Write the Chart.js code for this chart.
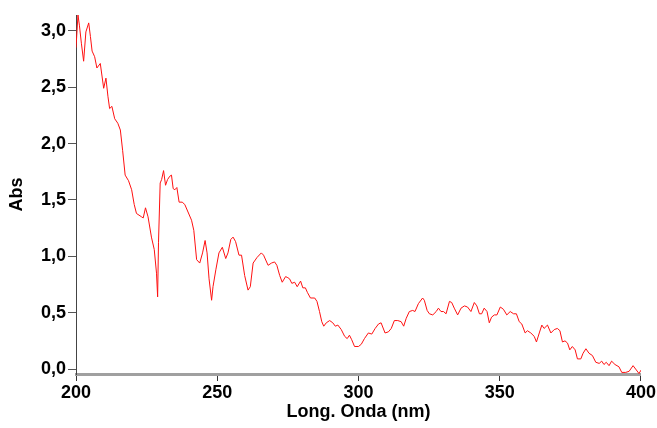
<!DOCTYPE html>
<html>
<head>
<meta charset="utf-8">
<script src="https://cdn.jsdelivr.net/npm/chart.js@4/dist/chart.umd.min.js"></script>
<style>
  html, body { margin: 0; padding: 0; background: #fff; }
  #wrap { width: 657px; height: 428px; position: relative; }
</style>
</head>
<body>
<div id="wrap"><canvas id="chart"></canvas></div>
<script>
/* Espectro UV-Vis: Abs vs longitud de onda */

const WAVELENGTH = [
  200.0, 200.7, 201.2, 201.9, 202.7, 203.5, 204.5, 205.1, 205.7, 206.6,
  207.4, 208.6, 209.8, 210.6, 211.3, 211.9, 212.7, 213.7, 214.8, 215.7,
  216.5, 217.4, 218.6, 219.7, 220.6, 221.4, 223.2, 223.8, 224.6, 225.5,
  226.7, 227.7, 228.5, 228.9, 229.2, 229.8, 230.3, 231.0, 231.7, 232.4,
  233.2, 233.8, 234.4, 235.0, 235.7, 236.5, 237.6, 238.5, 240.9, 241.7,
  242.7, 243.8, 244.8, 245.7, 246.4, 247.1, 248.0, 248.5, 249.5, 250.6,
  251.8, 253.0, 253.8, 254.8, 255.6, 256.5, 257.7, 258.6, 259.7, 260.9,
  261.7, 262.7, 264.1, 265.6, 266.4, 268.0, 269.2, 270.3, 271.1, 272.1,
  273.0, 274.2, 275.0, 275.6, 276.4, 277.4, 278.3, 279.5, 280.3, 281.2,
  281.9, 283.0, 284.5, 285.3, 286.2, 287.0, 287.7, 288.6, 289.8, 290.9,
  291.8, 292.7, 293.9, 295.1, 296.0, 296.8, 297.6, 298.6, 300.0, 301.0,
  302.1, 303.5, 304.7, 305.9, 307.1, 308.0, 309.4, 310.6, 311.6, 312.7,
  313.9, 315.1, 316.0, 316.9, 318.0, 319.2, 320.0, 321.2, 322.7, 323.3,
  324.3, 325.1, 326.3, 327.5, 328.3, 329.2, 330.1, 331.0, 332.2, 333.0,
  333.9, 335.1, 336.3, 337.5, 338.6, 339.8, 341.0, 341.9, 342.8, 343.6,
  344.5, 345.5, 346.3, 347.1, 348.1, 349.0, 350.2, 351.3, 352.5, 353.7,
  354.9, 355.9, 356.9, 357.8, 359.0, 359.8, 361.0, 362.2, 363.0, 364.0,
  364.9, 365.7, 366.9, 368.1, 369.3, 370.4, 371.3, 372.2, 373.1, 374.0,
  374.8, 375.7, 376.7, 377.5, 378.7, 379.5, 380.5, 381.6, 382.8, 384.0,
  385.2, 386.1, 386.9, 387.7, 388.7, 389.6, 390.8, 392.2, 393.2, 394.6,
  395.8, 397.2, 398.1, 399.3, 400.0
];

const ABSORBANCE = [
  2.85, 3.14, 3.05, 2.89, 2.73, 2.99, 3.07, 2.95, 2.82, 2.77,
  2.67, 2.71, 2.49, 2.58, 2.42, 2.31, 2.33, 2.22, 2.18, 2.12,
  1.94, 1.72, 1.67, 1.59, 1.46, 1.38, 1.35, 1.34, 1.43, 1.35,
  1.17, 1.06, 0.85, 0.64, 1.12, 1.65, 1.68, 1.76, 1.63, 1.68,
  1.71, 1.72, 1.60, 1.59, 1.61, 1.48, 1.48, 1.46, 1.32, 1.23,
  0.97, 0.94, 1.03, 1.14, 1.03, 0.80, 0.61, 0.73, 0.88, 1.03,
  1.08, 0.98, 1.03, 1.15, 1.17, 1.13, 1.01, 1.01, 0.83, 0.70,
  0.73, 0.94, 0.99, 1.03, 1.01, 0.92, 0.94, 0.95, 0.92, 0.83,
  0.77, 0.82, 0.81, 0.80, 0.76, 0.77, 0.73, 0.78, 0.72, 0.72,
  0.68, 0.63, 0.63, 0.60, 0.51, 0.42, 0.38, 0.41, 0.43, 0.41,
  0.38, 0.39, 0.35, 0.29, 0.27, 0.30, 0.26, 0.20, 0.20, 0.22,
  0.27, 0.32, 0.31, 0.36, 0.40, 0.41, 0.32, 0.33, 0.36, 0.43,
  0.43, 0.42, 0.38, 0.45, 0.51, 0.52, 0.51, 0.58, 0.63, 0.61,
  0.52, 0.49, 0.48, 0.51, 0.54, 0.51, 0.51, 0.49, 0.60, 0.59,
  0.54, 0.48, 0.54, 0.56, 0.55, 0.51, 0.59, 0.56, 0.49, 0.49,
  0.54, 0.51, 0.41, 0.46, 0.48, 0.48, 0.55, 0.53, 0.48, 0.51,
  0.49, 0.49, 0.42, 0.40, 0.32, 0.34, 0.32, 0.29, 0.24, 0.32,
  0.39, 0.36, 0.39, 0.32, 0.35, 0.36, 0.34, 0.24, 0.25, 0.23,
  0.17, 0.20, 0.17, 0.09, 0.09, 0.14, 0.18, 0.14, 0.12, 0.06,
  0.05, 0.07, 0.04, 0.06, 0.03, 0.07, 0.04, 0.02, -0.03, -0.03,
  -0.02, 0.03, 0.00, -0.04, -0.01
];

const X_TICKS = [200, 250, 300, 350, 400];
const Y_TICKS = [0, 0.5, 1.0, 1.5, 2.0, 2.5, 3.0];

const FONT = { family: "'Liberation Sans', Arial, sans-serif", size: 18, weight: "bold" };
const fmt = v => Number(v).toFixed(1).replace(".", ",");

const points = WAVELENGTH.map((x, i) => ({ x, y: ABSORBANCE[i] }));

new Chart(document.getElementById("chart"), {
  type: "line",
  data: {
    datasets: [{
      label: "Abs",
      data: points,
      borderColor: "#ff1010",
      borderWidth: 1,
      pointRadius: 0,
      tension: 0,
      fill: false
    }]
  },
  options: {
    responsive: true,
    maintainAspectRatio: false,
    animation: false,
    layout: { padding: { left: 0, top: 15, right: 14, bottom: 0 } },
    plugins: { legend: { display: false }, tooltip: { enabled: false } },
    scales: {
      x: {
        type: "linear",
        min: 200, max: 400,
        afterFit: s => { s.height = 54; },
        afterBuildTicks: s => { s.ticks = X_TICKS.map(v => ({ value: v })); },
        border: { display: true, color: "#a0a0a0", width: 3 },
        grid: { display: true, drawOnChartArea: false, drawTicks: true, tickLength: 7, color: "#333" },
        ticks: { color: "#000", font: FONT, padding: 1, maxRotation: 0 },
        title: { display: true, text: "Long. Onda (nm)", color: "#000", font: FONT, padding: { top: 0, bottom: 5 } }
      },
      y: {
        min: -0.044, max: 3.14,
        afterFit: s => { s.width = 76; },
        afterBuildTicks: s => { s.ticks = Y_TICKS.map(v => ({ value: v })); },
        border: { display: true, color: "#444", width: 1 },
        grid: { display: true, drawOnChartArea: false, drawTicks: true, tickLength: 8, color: "#555" },
        ticks: { color: "#000", font: FONT, padding: 2, callback: v => fmt(v) },
        title: { display: true, text: "Abs", color: "#000", font: FONT, padding: { top: 6, bottom: 0 } }
      }
    }
  }
});
</script>
</body>
</html>
